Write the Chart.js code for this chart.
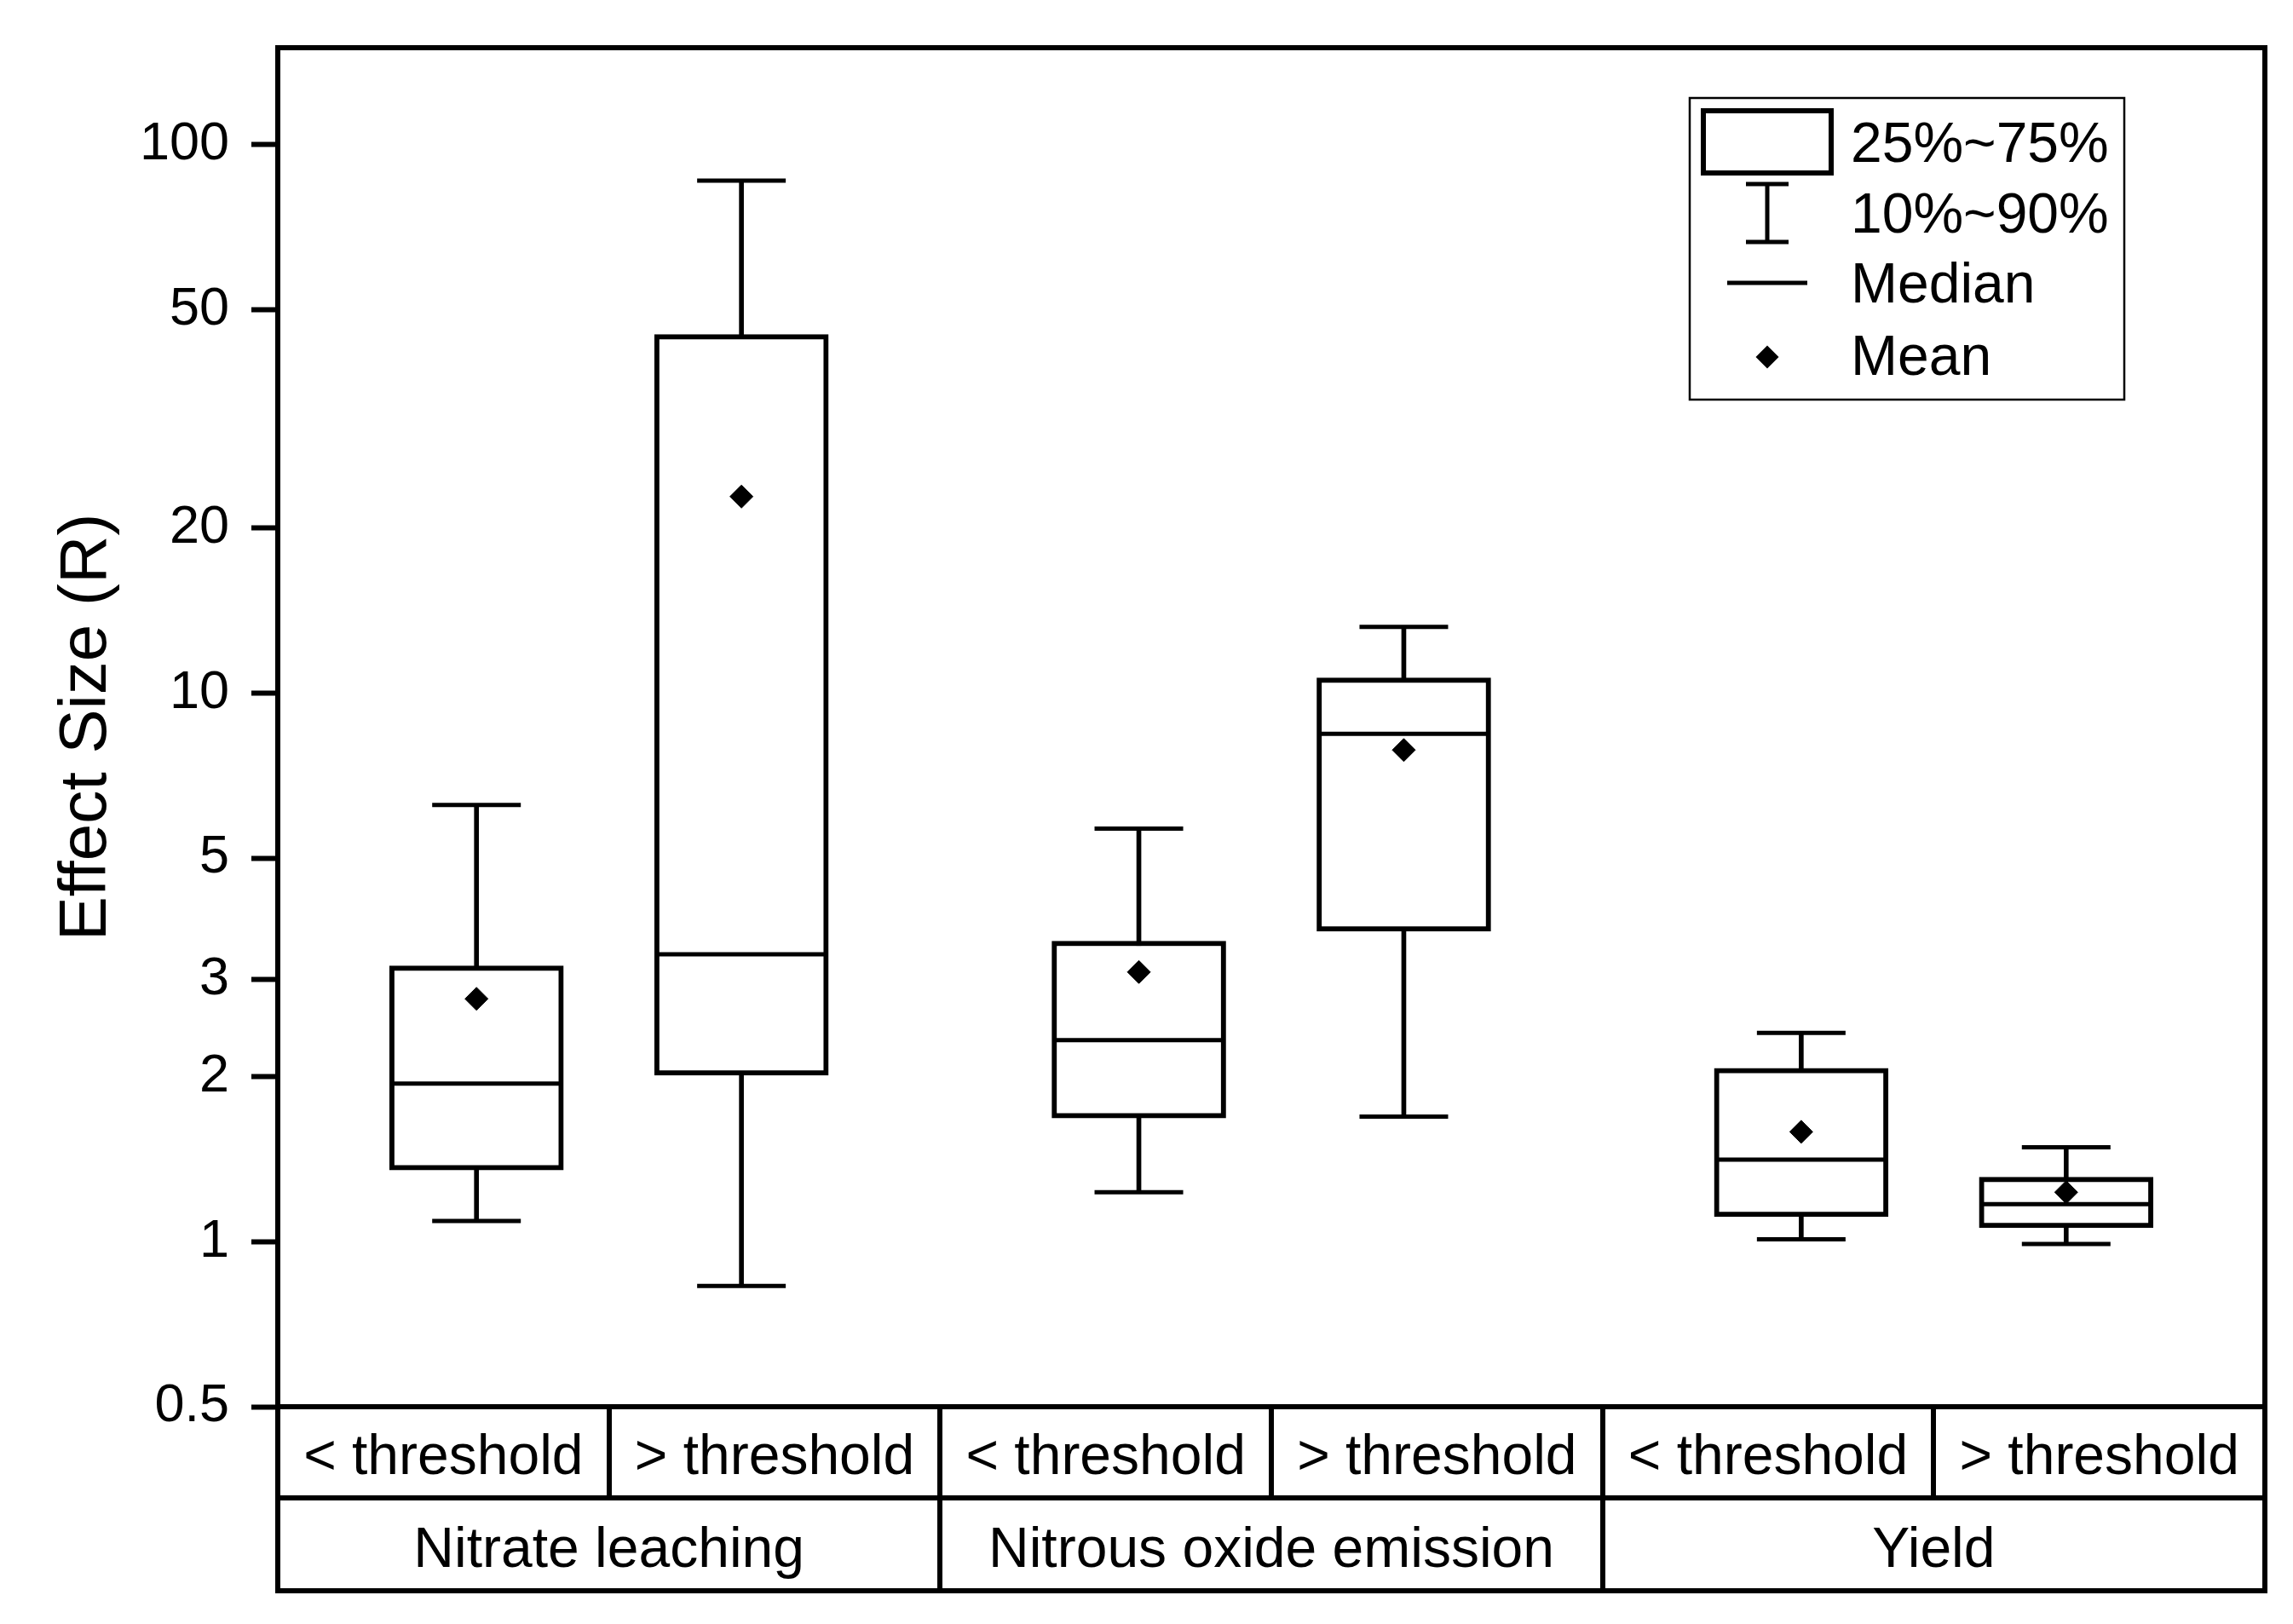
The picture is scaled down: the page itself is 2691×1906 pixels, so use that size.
<!DOCTYPE html>
<html>
<head>
<meta charset="utf-8">
<script src="https://cdn.jsdelivr.net/npm/chart.js@4/dist/chart.umd.min.js"></script>
<style>
  body { margin: 0; background: #fff; }
  canvas { display: block; }
</style>
</head>
<body>
<canvas id="effectChart" width="2691" height="1906"></canvas>
<script>
// data (effect size R, log axis)
const groups = ['Nitrate leaching', 'Nitrous oxide emission', 'Yield'];
const subLabels = ['< threshold', '> threshold', '< threshold', '> threshold', '< threshold', '> threshold'];
const p10    = [1.09, 0.83, 1.23, 1.69, 1.01, 0.99];
const q1     = [1.35, 2.01, 1.68, 3.68, 1.11, 1.06];
const median = [1.94, 3.34, 2.33, 8.42, 1.41, 1.17];
const q3     = [3.18, 45.0, 3.53, 10.65, 2.07, 1.31];
const p90    = [6.25, 85.9, 5.66, 13.2, 2.40, 1.485];
const mean   = [2.77, 22.8, 3.10, 7.87, 1.585, 1.23];
const yTicks = [0.5, 1, 2, 3, 5, 10, 20, 50, 100];
const legendItems = ['25%~75%', '10%~90%', 'Median', 'Mean'];

const FONT = '"Liberation Sans", Arial, sans-serif';
const nudge = 0.1; // the two boxes of a group sit a bit toward each other
const xPos = subLabels.map((_, i) => i + 0.5 + (i % 2 === 0 ? nudge : -nudge));
const pts = arr => xPos.map((x, i) => ({ x: x, y: arr[i] }));

// table under the plot + frame
const tablePlugin = {
  id: 'table',
  afterDraw(chart) {
    const { ctx, chartArea: a } = chart;
    const xs = chart.scales.x, xs2 = chart.scales.x2;
    ctx.save();
    ctx.strokeStyle = '#000';
    ctx.lineWidth = 6;
    ctx.lineCap = 'square';
    ctx.beginPath();
    ctx.moveTo(a.left, a.top); ctx.lineTo(a.right, a.top);
    ctx.moveTo(a.left, a.top); ctx.lineTo(a.left, xs2.bottom);
    ctx.moveTo(a.right, a.top); ctx.lineTo(a.right, xs2.bottom);
    ctx.moveTo(a.left, a.bottom); ctx.lineTo(a.right, a.bottom);
    ctx.moveTo(a.left, xs.bottom); ctx.lineTo(a.right, xs.bottom);
    ctx.moveTo(a.left, xs2.bottom); ctx.lineTo(a.right, xs2.bottom);
    for (let i = 1; i < subLabels.length; i++) {
      const px = Math.round(xs.getPixelForValue(i));
      ctx.moveTo(px, xs.top); ctx.lineTo(px, xs.bottom);
      if (i % 2 === 0) { ctx.moveTo(px, xs2.top); ctx.lineTo(px, xs2.bottom); }
    }
    ctx.stroke();
    ctx.restore();
  }
};

// custom legend box (top right)
const legendPlugin = {
  id: 'boxLegend',
  afterDraw(chart) {
    const ctx = chart.ctx;
    ctx.save();
    ctx.strokeStyle = '#000';
    ctx.fillStyle = '#000';
    ctx.lineWidth = 2.5;
    ctx.strokeRect(1983, 115, 510, 354);

    ctx.lineWidth = 6;
    ctx.strokeRect(1999, 130, 150, 73);

    ctx.lineWidth = 5;
    ctx.beginPath();
    ctx.moveTo(2074, 216); ctx.lineTo(2074, 284);
    ctx.moveTo(2049, 216); ctx.lineTo(2099, 216);
    ctx.moveTo(2049, 284); ctx.lineTo(2099, 284);
    ctx.moveTo(2027, 332); ctx.lineTo(2121, 332);
    ctx.stroke();

    ctx.beginPath();
    ctx.moveTo(2074, 405.5); ctx.lineTo(2087.5, 419);
    ctx.lineTo(2074, 432.5); ctx.lineTo(2060.5, 419);
    ctx.closePath();
    ctx.fill();

    ctx.font = '66px ' + FONT;
    ctx.textAlign = 'left';
    ctx.textBaseline = 'alphabetic';
    const baselines = [190, 273, 355, 440];
    legendItems.forEach((t, i) => ctx.fillText(t, 2172, baselines[i]));
    ctx.restore();
  }
};

const ctx = document.getElementById('effectChart').getContext('2d');
new Chart(ctx, {
  type: 'bar',
  data: {
    datasets: [
      {
        type: 'scatter', label: 'Mean', data: pts(mean), order: 0,
        pointStyle: 'rectRot', pointRadius: 13.5, pointBorderWidth: 1,
        backgroundColor: '#000', borderColor: '#000'
      },
      {
        type: 'scatter', label: 'Median', data: pts(median), order: 1,
        pointStyle: 'line', pointRadius: 100, pointBorderWidth: 5,
        borderColor: '#000'
      },
      {
        type: 'scatter', label: 'Caps', data: pts(p10).concat(pts(p90)), order: 2,
        pointStyle: 'line', pointRadius: 52, pointBorderWidth: 5,
        borderColor: '#000'
      },
      {
        label: 'Box', order: 3,
        data: xPos.map((x, i) => ({ x: x, y: [q1[i], q3[i]] })),
        backgroundColor: '#fff', borderColor: '#000', borderWidth: 6,
        borderSkipped: false, barThickness: 204, grouped: false
      },
      {
        label: 'Whisker', order: 4,
        data: xPos.map((x, i) => ({ x: x, y: [p10[i], p90[i]] })),
        backgroundColor: '#000', borderWidth: 0,
        barThickness: 5, grouped: false
      }
    ]
  },
  options: {
    responsive: false,
    devicePixelRatio: 1,
    animation: false,
    layout: { autoPadding: false, padding: { top: 56, right: 33, bottom: 39, left: 0 } },
    plugins: { legend: { display: false }, tooltip: { enabled: false } },
    scales: {
      x: {
        type: 'linear', position: 'bottom', min: 0, max: subLabels.length, weight: 0,
        offset: false,
        grid: { display: false, drawTicks: false, offset: false },
        border: { display: false },
        afterBuildTicks: axis => { axis.ticks = subLabels.map((_, i) => ({ value: i + 0.5 })); },
        afterFit: axis => { axis.height = 107; axis.paddingLeft = 0; axis.paddingRight = 0; },
        ticks: {
          autoSkip: false, maxRotation: 0, padding: 21, color: '#000',
          font: { family: FONT, size: 66 },
          callback: (v, i) => subLabels[i]
        }
      },
      x2: {
        type: 'linear', position: 'bottom', min: 0, max: subLabels.length, weight: 1,
        offset: false,
        grid: { display: false, drawTicks: false, offset: false },
        border: { display: false },
        afterBuildTicks: axis => { axis.ticks = groups.map((_, i) => ({ value: i * 2 + 1 })); },
        afterFit: axis => { axis.height = 109; axis.paddingLeft = 0; axis.paddingRight = 0; },
        ticks: {
          autoSkip: false, maxRotation: 0, padding: 23, color: '#000',
          font: { family: FONT, size: 66 },
          callback: (v, i) => groups[i]
        }
      },
      y: {
        type: 'logarithmic', min: 0.5, max: 150,
        afterBuildTicks: axis => { axis.ticks = yTicks.map(v => ({ value: v })); },
        afterFit: axis => { axis.width = 326; axis.paddingTop = 0; axis.paddingBottom = 0; },
        grid: { drawOnChartArea: false, drawTicks: true, tickLength: 31, tickWidth: 6, tickColor: '#000' },
        border: { display: true, color: '#000', width: 6 },
        ticks: {
          padding: 26, color: '#000',
          font: { family: FONT, size: 63 },
          callback: v => String(v)
        },
        title: {
          display: true, text: 'Effect Size (R)', color: '#000',
          font: { family: FONT, size: 78 },
          padding: { top: 56, bottom: 0 }
        }
      }
    }
  },
  plugins: [tablePlugin, legendPlugin]
});
</script>
</body>
</html>
